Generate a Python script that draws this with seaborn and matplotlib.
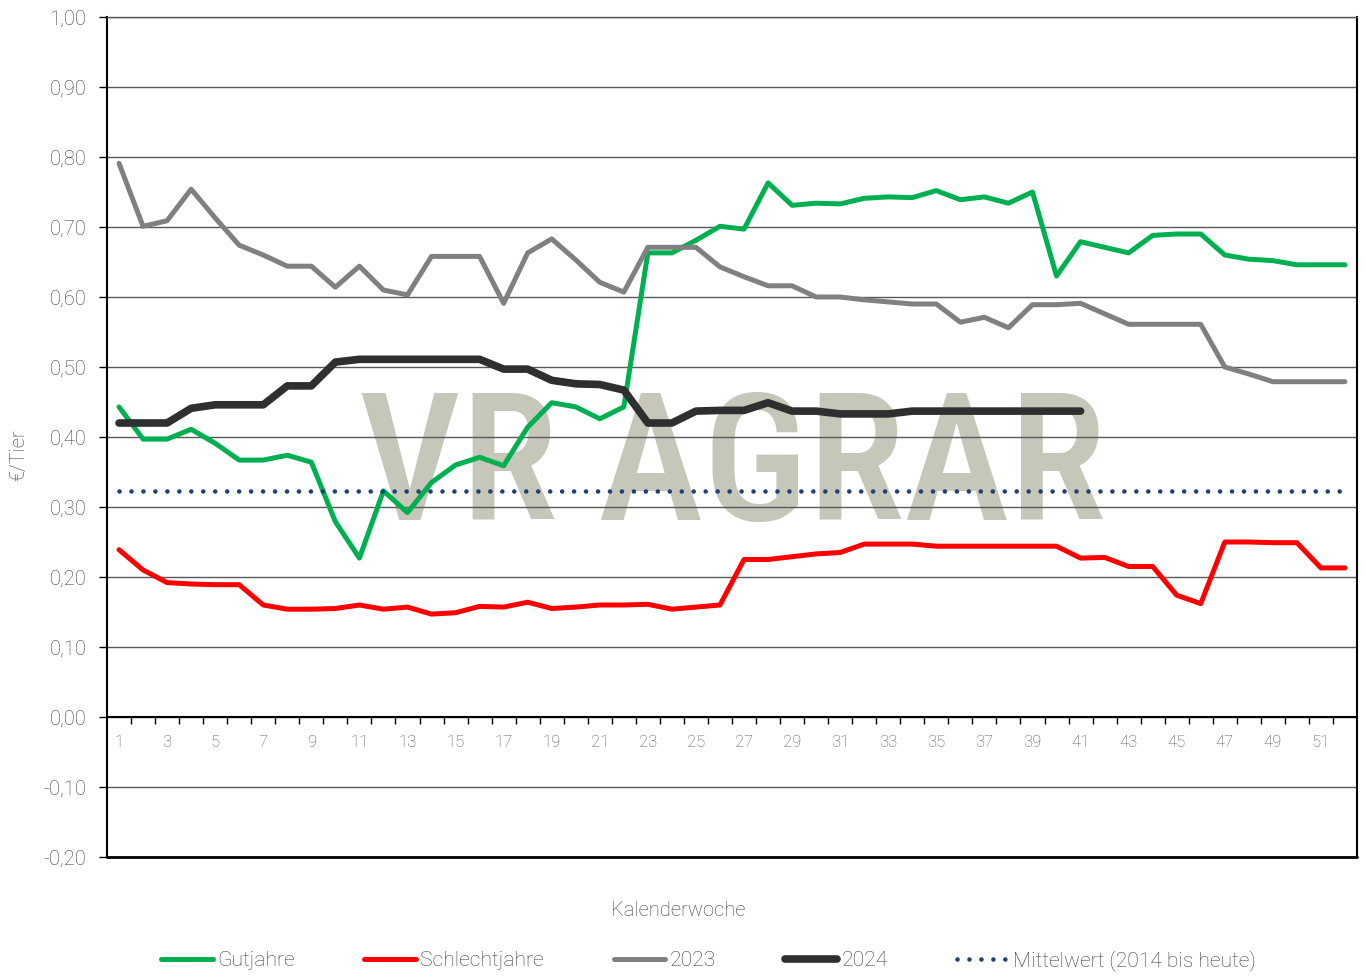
import numpy as np
import pandas as pd
import matplotlib
matplotlib.use("Agg")
import matplotlib.pyplot as plt
import seaborn as sns
from matplotlib import font_manager
from matplotlib.ticker import FixedLocator, FuncFormatter


# Data (Kalenderwoche 1-52, €/Tier)

weeks = list(range(1, 53))

gutjahre = [
    0.443, 0.397, 0.397, 0.411, 0.391, 0.367, 0.367, 0.374, 0.364, 0.279,
    0.227, 0.323, 0.292, 0.335, 0.360, 0.371, 0.359, 0.414, 0.449, 0.443,
    0.426, 0.443, 0.663, 0.663, 0.681, 0.701, 0.697, 0.763, 0.731, 0.734,
    0.733, 0.741, 0.743, 0.742, 0.752, 0.739, 0.743, 0.734, 0.750, 0.630,
    0.679, 0.671, 0.663, 0.688, 0.690, 0.690, 0.660, 0.654, 0.652, 0.646,
    0.646, 0.646
]

schlechtjahre = [
    0.239, 0.210, 0.192, 0.190, 0.189, 0.189, 0.160, 0.154, 0.154, 0.155,
    0.160, 0.154, 0.157, 0.147, 0.149, 0.158, 0.157, 0.164, 0.155, 0.157,
    0.160, 0.160, 0.161, 0.154, 0.157, 0.160, 0.225, 0.225, 0.229, 0.233,
    0.235, 0.247, 0.247, 0.247, 0.244, 0.244, 0.244, 0.244, 0.244, 0.244,
    0.227, 0.228, 0.215, 0.215, 0.174, 0.162, 0.250, 0.250, 0.249, 0.249,
    0.213, 0.213
]

y2023 = [
    0.791, 0.701, 0.709, 0.754, 0.713, 0.674, 0.660, 0.644, 0.644, 0.614,
    0.644, 0.610, 0.603, 0.658, 0.658, 0.658, 0.591, 0.663, 0.683, 0.653,
    0.621, 0.607, 0.671, 0.671, 0.671, 0.643, 0.629, 0.616, 0.616, 0.600,
    0.600, 0.596, 0.593, 0.590, 0.590, 0.564, 0.571, 0.556, 0.589, 0.589,
    0.591, 0.576, 0.561, 0.561, 0.561, 0.561, 0.500, 0.490, 0.479, 0.479,
    0.479, 0.479
]

y2024 = [
    0.420, 0.420, 0.420, 0.441, 0.446, 0.446, 0.446, 0.473, 0.473, 0.507,
    0.511, 0.511, 0.511, 0.511, 0.511, 0.511, 0.497, 0.497, 0.481, 0.476,
    0.475, 0.467, 0.420, 0.420, 0.437, 0.438, 0.438, 0.449, 0.437, 0.437,
    0.433, 0.433, 0.433, 0.437, 0.437, 0.437, 0.437, 0.437, 0.437, 0.437,
    0.437
]

mittelwert = [0.323] * 52

labels = ["Gutjahre", "Schlechtjahre", "2023", "2024", "Mittelwert (2014 bis heute)"]
colors = ["#00B050", "#FF0000", "#808080", "#2E3030", "#1F3F77"]

y_ticks = [round(-0.2 + 0.1 * i, 1) for i in range(13)]
x_tick_labels = list(range(1, 52, 2))


# Plot

sns.set_style("white")
plt.rcParams["font.family"] = ["Roboto", "DejaVu Sans"]
plt.rcParams["font.weight"] = "light"

fig = plt.figure(figsize=(13.66, 9.76), dpi=100)
ax = fig.add_axes([107 / 1366, 1 - 857 / 976, 1250 / 1366, 840 / 976])

# watermark - prefer a narrow font if one is installed
wm_family = "DejaVu Sans"
for cand in ["Roboto Condensed", "Liberation Sans Narrow", "DejaVu Sans Condensed"]:
    try:
        font_manager.findfont(cand, fallback_to_default=False)
        wm_family = cand
        break
    except ValueError:
        pass

wm = ax.text(
    0.5, 0.401, "VR AGRAR",
    transform=ax.transAxes,
    ha="center", va="baseline",
    fontsize=120,
    family=wm_family,
    weight="medium",
    color="#C6C7B9",
    zorder=0
)

# scale watermark to its width in the reference
fig.canvas.draw()
wm_width = wm.get_window_extent().width
wm.set_fontsize(120 * 747 / wm_width)

sns.lineplot(x=weeks, y=gutjahre, color=colors[0], linewidth=3.6,
             solid_capstyle="round", ax=ax, label=labels[0], zorder=3)
sns.lineplot(x=weeks, y=schlechtjahre, color=colors[1], linewidth=3.6,
             solid_capstyle="round", ax=ax, label=labels[1], zorder=3)
sns.lineplot(x=weeks, y=y2023, color=colors[2], linewidth=3.6,
             solid_capstyle="round", ax=ax, label=labels[2], zorder=3)
sns.lineplot(x=weeks[:len(y2024)], y=y2024, color=colors[3], linewidth=5.5,
             solid_capstyle="round", ax=ax, label=labels[3], zorder=3)
sns.lineplot(x=weeks, y=mittelwert, color=colors[4], linewidth=3.3,
             linestyle=(0, (0.01, 2.6)), dash_capstyle="round",
             ax=ax, label=labels[4], zorder=3)

ax.set_xlim(0.5, 52.5)
ax.set_ylim(-0.2, 1.0)

# horizontal gridlines
ax.set_yticks(y_ticks)
ax.yaxis.set_major_formatter(FuncFormatter(lambda v, p: f"{v:.2f}".replace(".", ",")))
ax.grid(axis="y", color="#595959", linewidth=1.0)
ax.grid(axis="x", visible=False)
ax.tick_params(axis="y", which="major", direction="out", length=6, width=1,
               color="black", labelsize=14.5, labelcolor="#404040", pad=9, left=True)

# x axis sits at zero, ticks between categories
ax.spines["bottom"].set_position(("data", 0))
ax.xaxis.set_major_locator(FixedLocator(x_tick_labels))
ax.xaxis.set_minor_locator(FixedLocator(np.arange(1.5, 52, 1)))
ax.tick_params(axis="x", which="major", length=0, labelsize=12,
               labelcolor="#595959", pad=13)
ax.tick_params(axis="x", which="minor", direction="out", length=5, width=1,
               color="black", bottom=True)

for side in ["left", "right", "bottom"]:
    ax.spines[side].set_color("black")
    ax.spines[side].set_linewidth(1.5)
ax.spines["top"].set_color("#595959")
ax.spines["top"].set_linewidth(1.0)
ax.axhline(-0.2, color="black", linewidth=2, clip_on=False, zorder=4)

ax.set_ylabel("")
ax.set_xlabel("")
fig.text(19 / 1366, 1 - 455 / 976, "€/Tier", ha="center", va="center",
         rotation=90, fontsize=14.5, color="#404040")
fig.text(678 / 1366, 1 - 911 / 976, "Kalenderwoche", ha="center", va="center",
         fontsize=14.5, color="#404040")

# legend
handles, leg_labels = ax.get_legend_handles_labels()
ax.get_legend().remove()
fig.legend(
    handles, leg_labels,
    loc="center",
    bbox_to_anchor=(0.5187, 0.016),
    ncol=5,
    frameon=False,
    fontsize=15.2,
    labelcolor="#404040",
    handlelength=2.45,
    handletextpad=0.2,
    columnspacing=3.3
)

plt.savefig("out.png", dpi=100)
